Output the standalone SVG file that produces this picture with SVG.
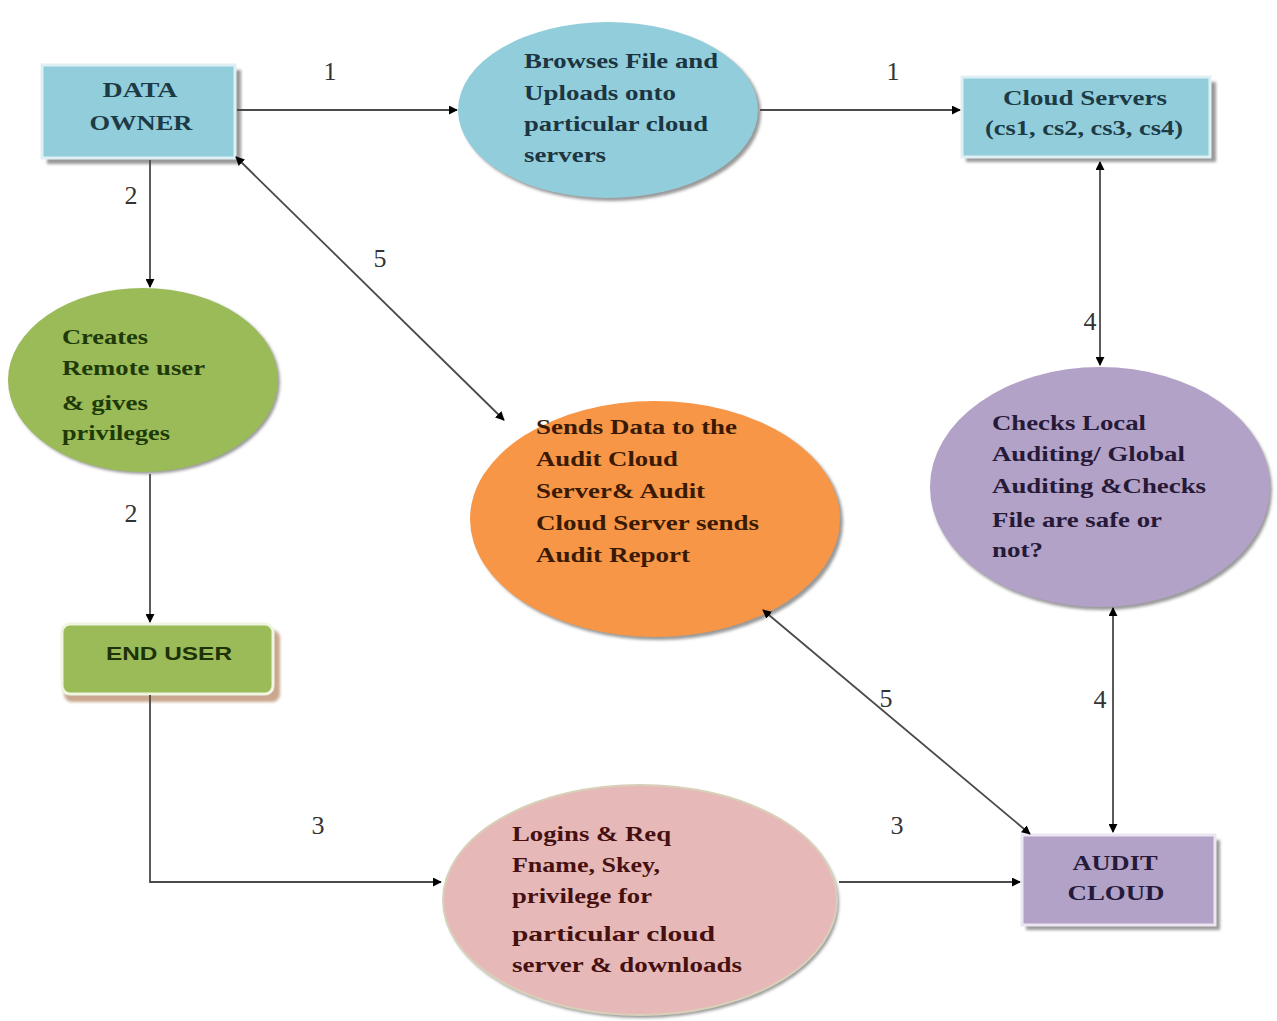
<svg xmlns="http://www.w3.org/2000/svg" width="1277" height="1021" viewBox="0 0 1277 1021">
<defs>
<marker id="ah" viewBox="0 0 10 10" refX="9" refY="5" markerWidth="5" markerHeight="5" orient="auto-start-reverse" markerUnits="strokeWidth">
<path d="M0,0 L10,5 L0,10 z" fill="#000"/>
</marker>
<filter id="blur" x="-10%" y="-10%" width="120%" height="120%"><feGaussianBlur stdDeviation="1.5"/></filter>
</defs>
<style>
.t{font-family:"Liberation Serif","Times New Roman",serif;font-weight:bold;font-size:22px}
.n{font-family:"Liberation Serif","Times New Roman",serif;font-size:26px;fill:#333;text-anchor:middle}
.c{stroke:#4a4a4a;stroke-width:1.8;fill:none}
.sh{fill:#999;filter:url(#blur)}
</style>
<rect width="1277" height="1021" fill="#fff"/>

<g id="data-owner">
<rect class="sh" x="47" y="70" width="194" height="94"/>
<rect x="42" y="65" width="193" height="93" fill="#92CDDC" stroke="#dff0f5" stroke-width="3"/>
<text class="t" x="140" y="97" text-anchor="middle" fill="#1d3b45" font-size="21" textLength="75" lengthAdjust="spacingAndGlyphs">DATA</text>
<text class="t" x="141" y="130" text-anchor="middle" fill="#1d3b45" font-size="21" textLength="103" lengthAdjust="spacingAndGlyphs">OWNER</text>
</g>

<g id="browse-upload">
<ellipse class="sh" cx="611" cy="113" rx="150" ry="88"/>
<ellipse cx="608" cy="110" rx="150" ry="88" fill="#92CDDC"/>
<g class="t" fill="#1c3540">
<text x="524" y="68" textLength="194" lengthAdjust="spacingAndGlyphs">Browses File and</text>
<text x="524" y="100" textLength="152" lengthAdjust="spacingAndGlyphs">Uploads onto</text>
<text x="524" y="131" textLength="184" lengthAdjust="spacingAndGlyphs">particular cloud</text>
<text x="524" y="162" textLength="82" lengthAdjust="spacingAndGlyphs">servers</text>
</g>
</g>

<g id="cloud-servers">
<rect class="sh" x="966" y="82" width="250" height="80"/>
<rect x="962" y="77" width="248" height="80" fill="#92CDDC" stroke="#dff0f5" stroke-width="3"/>
<text class="t" x="1085" y="105" text-anchor="middle" fill="#1d3b45" font-size="21" textLength="164" lengthAdjust="spacingAndGlyphs">Cloud Servers</text>
<text class="t" x="1084" y="135" text-anchor="middle" fill="#1d3b45" font-size="21" textLength="198" lengthAdjust="spacingAndGlyphs">(cs1, cs2, cs3, cs4)</text>
</g>

<g id="create-user">
<ellipse class="sh" cx="145" cy="382" rx="135" ry="92"/>
<ellipse cx="143" cy="380" rx="135" ry="92" fill="#9BBB59"/>
<g class="t" fill="#1e3a08">
<text x="62" y="344" textLength="86" lengthAdjust="spacingAndGlyphs">Creates</text>
<text x="62" y="375" textLength="143" lengthAdjust="spacingAndGlyphs">Remote user</text>
<text x="62" y="410" textLength="86" lengthAdjust="spacingAndGlyphs">&amp; gives</text>
<text x="62" y="440" textLength="108" lengthAdjust="spacingAndGlyphs">privileges</text>
</g>
</g>

<g id="end-user">
<rect x="64" y="630" width="216" height="72" rx="8" fill="#c9a88f" filter="url(#blur)"/>
<rect x="62" y="624" width="211" height="70" rx="8" fill="#9BBB59" stroke="#eef5e0" stroke-width="3"/>
<text x="169" y="660" text-anchor="middle" font-family="Liberation Sans, Arial, sans-serif" font-weight="bold" font-size="19" fill="#1e3208" textLength="126" lengthAdjust="spacingAndGlyphs">END USER</text>
</g>

<g id="audit-send">
<ellipse class="sh" cx="658" cy="522" rx="185" ry="118"/>
<ellipse cx="655" cy="519" rx="185" ry="118" fill="#F79646"/>
<g class="t" fill="#3a1a04">
<text x="536" y="434" textLength="201" lengthAdjust="spacingAndGlyphs">Sends Data to the</text>
<text x="536" y="466" textLength="142" lengthAdjust="spacingAndGlyphs">Audit Cloud</text>
<text x="536" y="498" textLength="169" lengthAdjust="spacingAndGlyphs">Server&amp; Audit</text>
<text x="536" y="530" textLength="223" lengthAdjust="spacingAndGlyphs">Cloud Server sends</text>
<text x="536" y="562" textLength="154" lengthAdjust="spacingAndGlyphs">Audit Report</text>
</g>
</g>

<g id="checks-auditing">
<ellipse class="sh" cx="1102" cy="490" rx="170" ry="120"/>
<ellipse cx="1100" cy="487" rx="170" ry="120" fill="#B3A2C7"/>
<g class="t" fill="#261a38">
<text x="992" y="430" textLength="154" lengthAdjust="spacingAndGlyphs">Checks Local</text>
<text x="992" y="461" textLength="193" lengthAdjust="spacingAndGlyphs">Auditing/ Global</text>
<text x="992" y="493" textLength="214" lengthAdjust="spacingAndGlyphs">Auditing &amp;Checks</text>
<text x="992" y="527" textLength="170" lengthAdjust="spacingAndGlyphs">File are safe or</text>
<text x="992" y="557" textLength="51" lengthAdjust="spacingAndGlyphs">not?</text>
</g>
</g>

<g id="logins-req">
<ellipse class="sh" cx="642" cy="903" rx="197" ry="115"/>
<ellipse cx="640" cy="900" rx="197" ry="115" fill="#E6B9B8" stroke="#d8d0b8" stroke-width="2"/>
<g class="t" fill="#45100f">
<text x="512" y="841" textLength="159" lengthAdjust="spacingAndGlyphs">Logins &amp; Req</text>
<text x="512" y="872" textLength="148" lengthAdjust="spacingAndGlyphs">Fname, Skey,</text>
<text x="512" y="903" textLength="140" lengthAdjust="spacingAndGlyphs">privilege for</text>
<text x="512" y="941" textLength="203" lengthAdjust="spacingAndGlyphs">particular cloud</text>
<text x="512" y="972" textLength="230" lengthAdjust="spacingAndGlyphs">server &amp; downloads</text>
</g>
</g>

<g id="audit-cloud">
<rect class="sh" x="1026" y="840" width="194" height="90"/>
<rect x="1022" y="835" width="193" height="90" fill="#B3A2C7" stroke="#ece6f3" stroke-width="3"/>
<text class="t" x="1115" y="870" text-anchor="middle" fill="#251a3a" font-size="21" textLength="85" lengthAdjust="spacingAndGlyphs">AUDIT</text>
<text class="t" x="1116" y="900" text-anchor="middle" fill="#251a3a" font-size="21" textLength="97" lengthAdjust="spacingAndGlyphs">CLOUD</text>
</g>

<g id="connectors">
<line class="c" x1="237" y1="110" x2="457" y2="110" marker-end="url(#ah)"/>
<line class="c" x1="760" y1="110" x2="960" y2="110" marker-end="url(#ah)"/>
<line class="c" x1="150" y1="160" x2="150" y2="287" marker-end="url(#ah)"/>
<line class="c" x1="150" y1="474" x2="150" y2="622" marker-end="url(#ah)"/>
<polyline class="c" points="150,695 150,882 441,882" marker-end="url(#ah)"/>
<line class="c" x1="839" y1="882" x2="1020" y2="882" marker-end="url(#ah)"/>
<line class="c" x1="1100" y1="162" x2="1100" y2="365" marker-start="url(#ah)" marker-end="url(#ah)"/>
<line class="c" x1="1113" y1="608" x2="1113" y2="832" marker-start="url(#ah)" marker-end="url(#ah)"/>
<line class="c" x1="236" y1="157" x2="504" y2="420" marker-start="url(#ah)" marker-end="url(#ah)"/>
<line class="c" x1="763" y1="610" x2="1030" y2="834" marker-start="url(#ah)" marker-end="url(#ah)"/>
<text class="n" x="330" y="80">1</text>
<text class="n" x="893" y="80">1</text>
<text class="n" x="131" y="204">2</text>
<text class="n" x="131" y="522">2</text>
<text class="n" x="318" y="834">3</text>
<text class="n" x="897" y="834">3</text>
<text class="n" x="1090" y="330">4</text>
<text class="n" x="1100" y="708">4</text>
<text class="n" x="380" y="267">5</text>
<text class="n" x="886" y="707">5</text>
</g>
</svg>
